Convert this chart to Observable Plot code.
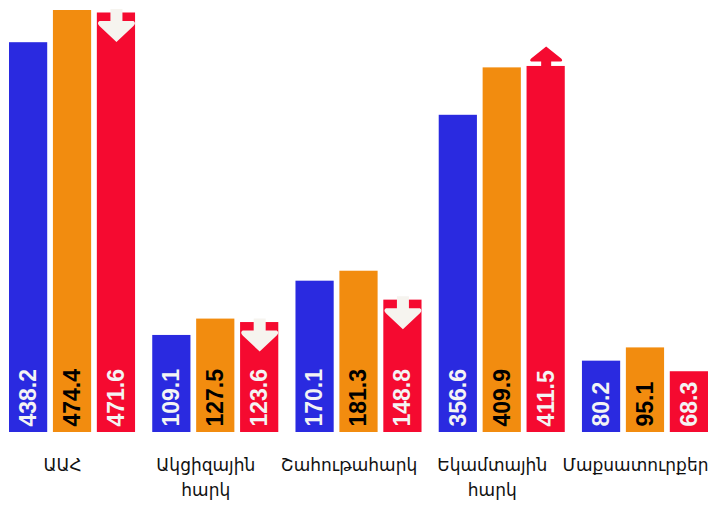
<!DOCTYPE html>
<html>
<head>
<meta charset="utf-8">
<script src="https://cdn.jsdelivr.net/npm/d3@7"></script>
<script src="https://cdn.jsdelivr.net/npm/@observablehq/plot@0.6"></script>
<style>
  html, body { margin: 0; padding: 0; background: #ffffff; }
  #chart { width: 708px; height: 507px; }
</style>
</head>
<body>
<div id="chart"></div>
<script>
// Categories (tax types)
const categories = ["ԱԱՀ", "Ակցիզային\nհարկ", "Շահութահարկ", "Եկամտային\nհարկ", "Մաքսատուրքեր"];
// Three series per category
const seriesNames = ["s1", "s2", "s3"];
const seriesColors = ["#2a2ae0", "#f28c0f", "#f50a30"];
const labelColors = ["#f4f4f4", "#000000", "#f4f4f4"];
const blueValues = [438.2, 109.1, 170.1, 356.6, 80.2];
const orangeValues = [474.4, 127.5, 181.3, 409.9, 95.1];
const redValues = [471.6, 123.6, 148.8, 411.5, 68.3];
// Direction indicator on the third series
const trend = ["down", "down", "down", "up", null];

const allSeries = [blueValues, orangeValues, redValues];
const data = [];
categories.forEach((c, i) => {
  allSeries.forEach((vals, s) => {
    data.push({cat: c, series: seriesNames[s], value: vals[i], label: vals[i].toFixed(1), trend: s === 2 ? trend[i] : null});
  });
});

// custom block-arrow symbols
const downArrow = {
  draw(ctx) {
    ctx.moveTo(-6, -4);
    ctx.lineTo(6, -4);
    ctx.lineTo(6, 8);
    ctx.lineTo(17, 8);
    ctx.quadraticCurveTo(20, 10, 17, 13);
    ctx.lineTo(0, 29);
    ctx.lineTo(-17, 13);
    ctx.quadraticCurveTo(-20, 10, -17, 8);
    ctx.lineTo(-6, 8);
    ctx.closePath();
  }
};
const upArrow = {
  draw(ctx) {
    ctx.moveTo(-5, 0);
    ctx.lineTo(5, 0);
    ctx.lineTo(5, -5);
    ctx.lineTo(15, -5);
    ctx.quadraticCurveTo(17, -6, 15, -8);
    ctx.lineTo(0, -20);
    ctx.lineTo(-15, -8);
    ctx.quadraticCurveTo(-17, -6, -15, -5);
    ctx.lineTo(-5, -5);
    ctx.closePath();
  }
};

const chart = Plot.plot({
  width: 708,
  height: 507,
  marginTop: 10,
  marginBottom: 75,
  marginLeft: 9,
  marginRight: 0,
  style: {fontFamily: "'DejaVu Sans', sans-serif", background: "transparent"},
  fx: {domain: categories, paddingInner: 0.12, paddingOuter: 0, round: false, label: null},
  x: {domain: seriesNames, paddingInner: 0.13, paddingOuter: 0, round: false, axis: null},
  y: {domain: [0, d3.max(data, d => d.value)], axis: null},
  color: {domain: seriesNames, range: seriesColors},
  marks: [
    Plot.barY(data, {fx: "cat", x: "series", y: "value", fill: "series"}),
    Plot.text(data, {
      fx: "cat", x: "series", frameAnchor: "bottom", text: "label",
      rotate: -90, textAnchor: "start", lineAnchor: "middle", dy: -6,
      fontFamily: "'Liberation Sans', Arial, sans-serif", fontWeight: "bold", fontSize: 23,
      fill: d => labelColors[seriesNames.indexOf(d.series)]
    }),
    Plot.dot(data.filter(d => d.trend === "down"), {
      fx: "cat", x: "series", y: "value", symbol: downArrow, r: 10, fill: "#f6f4ef", stroke: null
    }),
    Plot.dot(data.filter(d => d.trend === "up"), {
      fx: "cat", x: "series", y: "value", symbol: upArrow, r: 10, fill: "#f50a30", stroke: null
    }),
    Plot.axisFx({anchor: "bottom", tickSize: 0, tickPadding: 21, fontSize: 17, lineHeight: 1.45, dx: -10, fill: "#111", label: null})
  ]
});
document.getElementById("chart").appendChild(chart);
</script>
</body>
</html>
